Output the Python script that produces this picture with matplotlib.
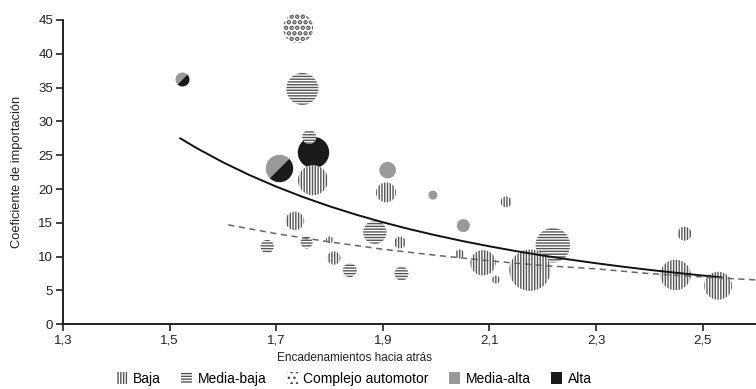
import matplotlib.pyplot as plt
import numpy as np
from matplotlib.markers import MarkerStyle
from matplotlib.transforms import Affine2D
from matplotlib.patches import Patch
from matplotlib.ticker import FuncFormatter

plt.rcParams['font.family'] = ['Liberation Sans', 'DejaVu Sans']
plt.rcParams['hatch.linewidth'] = 1.0

# Baja (rayas verticales)
baja_x = [1.769, 1.906, 1.735, 1.800, 1.808, 1.932, 2.131, 2.044, 2.088, 2.112, 2.176, 2.466, 2.449, 2.529]
baja_y = [21.3, 19.5, 15.3, 12.5, 9.8, 12.1, 18.1, 10.4, 9.1, 6.6, 8.0, 13.4, 7.3, 5.7]
baja_t = [15.0, 10.0, 9.3, 3.5, 6.7, 6.0, 5.5, 4.5, 12.7, 4.0, 20.7, 7.0, 15.3, 14.0]

# Media-baja (rayas horizontales)
mbaja_x = [1.749, 1.762, 1.885, 1.683, 1.757, 1.838, 1.935, 2.219]
mbaja_y = [34.8, 27.7, 13.6, 11.5, 12.1, 8.0, 7.5, 11.7]
mbaja_t = [16.0, 7.0, 11.7, 6.7, 6.0, 7.0, 7.0, 17.3]

# Complejo automotor (puntos)
auto_x = [1.741]
auto_y = [43.8]
auto_t = [15.0]

# Media-alta (gris)
malta_x = [1.909, 1.994, 2.051]
malta_y = [22.8, 19.1, 14.6]
malta_t = [8.3, 4.5, 6.5]

# Alta (negro)
alta_x = [1.769]
alta_y = [25.5]
alta_t = [15.7]

# Media-alta / Alta combinados
mix_x = [1.523, 1.705]
mix_y = [36.3, 23.1]
mix_t = [7.0, 13.7]

# Tendencias
sol_x = [1.52, 1.55, 1.60, 1.65, 1.70, 1.75, 1.80, 1.85, 1.90, 1.95, 2.00, 2.05,
         2.10, 2.15, 2.20, 2.25, 2.30, 2.35, 2.40, 2.45, 2.50, 2.535]
sol_y = [27.5, 26.09, 23.96, 22.06, 20.36, 18.83, 17.45, 16.21, 15.09, 14.07, 13.15, 12.30,
         11.53, 10.82, 10.17, 9.58, 9.03, 8.52, 8.05, 7.62, 7.21, 6.95]
dash_x = [1.61, 1.70, 1.80, 1.90, 2.00, 2.10, 2.20, 2.30, 2.40, 2.50, 2.60]
dash_y = [14.7, 13.4, 12.19, 11.1, 10.2, 9.39, 8.69, 8.2, 7.5, 7.0, 6.56]

x_ticks = [1.3, 1.5, 1.7, 1.9, 2.1, 2.3, 2.5]
y_ticks = [0, 5, 10, 15, 20, 25, 30, 35, 40, 45]
categorias = ['Baja', 'Media-baja', 'Complejo automotor', 'Media-alta', 'Alta']

DPI = 100
gris = '#999999'
negro = '#1a1a1a'
raya = '#555555'


def area(t):
    # radio en pixeles -> tamano de marcador en puntos^2
    return (2 * np.array(t) * 72 / DPI) ** 2


fig = plt.figure(figsize=(7.56, 3.89), dpi=DPI)
ax = fig.add_axes([63 / 756, 1 - 324.3 / 389, 1 - 63 / 756, (324.3 - 20) / 389])

ax.scatter(malta_x, malta_y, s=area(malta_t), c=gris, linewidths=0, zorder=2, clip_on=False)
ax.scatter(alta_x, alta_y, s=area(alta_t), c=negro, linewidths=0, zorder=2, clip_on=False)
mk = MarkerStyle('o', fillstyle='left', transform=Affine2D().rotate_deg(-45))
for x, y, t in zip(mix_x, mix_y, mix_t):
    ax.plot(x, y, marker=mk, markersize=2 * t * 72 / DPI, markerfacecolor=gris,
            markerfacecoloralt=negro, markeredgewidth=0, linestyle='none', zorder=2, clip_on=False)
ax.scatter(mbaja_x, mbaja_y, s=area(mbaja_t), facecolors='white', edgecolors=raya,
           hatch='------', linewidths=0, zorder=3, clip_on=False)
ax.scatter(baja_x, baja_y, s=area(baja_t), facecolors='white', edgecolors=raya,
           hatch='||||||', linewidths=0, zorder=4, clip_on=False)
with plt.rc_context({'hatch.linewidth': 2.3}):
    ax.scatter(auto_x, auto_y, s=area(auto_t), facecolors='white', edgecolors='#555555',
               hatch='...', linewidths=0, zorder=4, clip_on=False)

ax.plot(sol_x, sol_y, color='#111111', lw=1.4, zorder=6)
ax.plot(dash_x, dash_y, color='#666666', lw=1.1, ls=(0, (4, 3)), zorder=6, clip_on=False)

ax.set_xlim(1.3, 2.6)
ax.set_ylim(0, 45)
ax.set_xticks(x_ticks)
ax.set_yticks(y_ticks)
ax.xaxis.set_major_formatter(FuncFormatter(lambda v, p: f'{v:.1f}'.replace('.', ',')))
for s in ['top', 'right']:
    ax.spines[s].set_visible(False)
for s in ['left', 'bottom']:
    ax.spines[s].set_linewidth(1.4)
    ax.spines[s].set_color('#222222')
ax.tick_params(direction='out', length=5, width=1.2, color='#222222', labelsize=9.5,
               labelcolor='#222222', pad=2)

ax.set_xlabel('Encadenamientos hacia atrás', fontsize=8.5, color='#222222')
ax.xaxis.set_label_coords(0.42, -0.09)
ax.set_ylabel('Coeficiente de importación', fontsize=9.3, color='#222222')
ax.yaxis.set_label_coords(-0.058, 0.5)

handles = [
    Patch(facecolor='white', edgecolor=raya, hatch='||||||', linewidth=0),
    Patch(facecolor='white', edgecolor=raya, hatch='------', linewidth=0),
    Patch(facecolor='white', edgecolor='#444444', hatch='...', linewidth=0),
    Patch(facecolor=gris, linewidth=0),
    Patch(facecolor=negro, linewidth=0),
]
fig.legend(handles, categorias, loc='center', bbox_to_anchor=(354 / 756, 1 - 379 / 389),
           ncol=5, frameon=False, fontsize=10, handlelength=0.8, handleheight=1.0,
           handletextpad=0.4, columnspacing=1.45)

fig.savefig('out.png', dpi=DPI)
